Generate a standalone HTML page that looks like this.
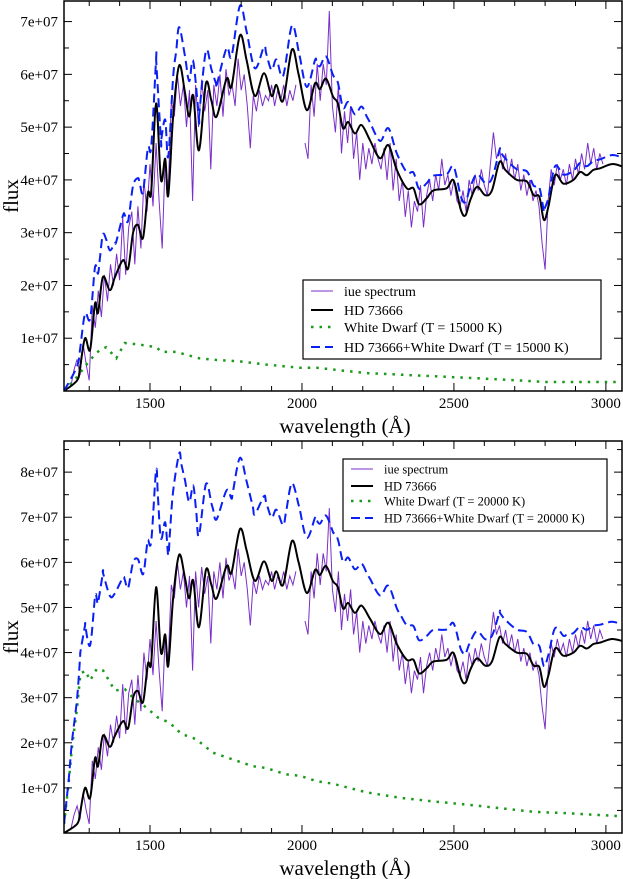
<!DOCTYPE html>
<html><head><meta charset="utf-8">
<style>
html,body{margin:0;padding:0;background:#fff;}
svg{display:block;font-family:"Liberation Serif",serif;}
</style></head>
<body>
<svg id="chart" width="623" height="879" viewBox="0 0 623 879" xmlns="http://www.w3.org/2000/svg"></svg>
<script>
// ---- data (flux in units of 1e6) ----
const hdWave = [1217,1260,1270,1286,1303,1319,1329,1345,1368,1384,1411,1428,1444,1460,1477,1493,1504,1520,1536,1550,1560,1576,1596,1615,1629,1642,1661,1684,1702,1719,1752,1768,1796,1818,1845,1875,1900,1916,1938,1967,1989,2016,2043,2059,2079,2102,2118,2135,2152,2174,2196,2224,2257,2284,2312,2345,2367,2385,2410,2432,2476,2499,2523,2538,2554,2576,2603,2625,2650,2669,2707,2740,2762,2781,2796,2811,2833,2860,2893,2915,2937,2959,2981,3019,3052];
const hdFlux = [0,2,4.5,10,7.8,16.6,14.8,21.6,19.1,21.5,24.8,23.2,29.9,31.5,29,37.5,37.8,54.5,40,44,37,52,61.7,56.5,52,56,45.6,58.3,55,52,59.2,57.7,67.4,62.6,55.9,60.2,55.9,58,55,64.7,60,53.2,58.3,57.2,59.2,55.8,54.5,49.8,51,48.8,50.4,47.5,44.1,46.6,41.9,38.4,38.4,35.4,36.5,38,38.4,39.9,34.3,33.3,36.2,38.7,37.1,38,43.4,41.9,40,39.7,37.1,36.8,32.4,35,40.9,39.3,40,41.5,40.9,41.9,42.2,43,42.6];
const wd15Wave = [1217,1260,1303,1335,1356,1389,1417,1466,1521,1537,1586,1662,1717,1796,1883,1993,2048,2213,2432,2652,2800,3052];
const wd15Flux = [0,2.7,5.9,7.8,8.3,6.2,9.1,8.8,8.3,7.4,7.4,6.2,5.9,5.6,5.0,4.4,4.4,3.4,2.8,2.2,1.7,1.7];
const wd20Wave = [1217,1232,1243,1260,1271,1287,1303,1325,1346,1384,1417,1444,1488,1526,1565,1603,1652,1707,1773,1838,1882,1948,1993,2047,2103,2213,2323,2432,2542,2652,2762,2871,3052];
const wd20Flux = [2.0,10.9,18.9,27.8,35.3,36,33.8,36.4,36,31.6,31.9,30,27.8,25.6,24.4,22,20.8,17.8,16.3,14.8,14.4,13,12.7,11.5,10.9,9,7.8,7,6.3,5.5,4.7,4.4,3.7];
const iueStart = 1240, iueStep = 10;
const iueFlux = [1,4,6,3,9,5,2,16,12,19,14,22,17,24,20,26,21,33,22,31,34,24,35,27,40,34,43,35,47,36,27,44,38,55,52,60,54,58,50,57,36,58,50,59,53,57,42,58,54,60,52,61,56,58,54,63,57,60,54,46,56,53,57,54,56,55,58,54,57,55,58,54,57,55,58,null,null,47,44,58,52,62,55,62,58,72,54,49,58,45,53,47,54,44,49,40,47,42,46,43,47,44,42,46,40,47,38,44,36,40,33,38,31,36,34,39,31,37,40,36,41,38,44,39,41,37,40,36,35,38,34,40,37,41,38,42,39,37,43,49,44,46,42,45,41,44,40,43,38,41,37,40,36,38,35,28,23,36,42,39,43,40,42,39,43,40,44,41,45,42,47,43,46,42,45,43];
const xTicks = [1500,2000,2500,3000];
const yTicksTop = [10,20,30,40,50,60,70];
const yTicksBot = [10,20,30,40,50,60,70,80];

const NS="http://www.w3.org/2000/svg";
const svg=document.getElementById('chart');
function mk(tag,attrs,parent){const e=document.createElementNS(NS,tag);for(const k in attrs)e.setAttribute(k,attrs[k]);(parent||svg).appendChild(e);return e;}
function interp(ws,fs,w){if(w<=ws[0])return fs[0];for(let i=1;i<ws.length;i++){if(w<=ws[i]){const t=(w-ws[i-1])/(ws[i]-ws[i-1]);return fs[i-1]+t*(fs[i]-fs[i-1]);}}return fs[fs.length-1];}
function smooth(pts){let d='M'+pts[0][0].toFixed(1)+','+pts[0][1].toFixed(1);
  for(let i=0;i<pts.length-1;i++){const p0=pts[Math.max(0,i-1)],p1=pts[i],p2=pts[i+1],p3=pts[Math.min(pts.length-1,i+2)];
    const c1x=p1[0]+(p2[0]-p0[0])/6,c1y=p1[1]+(p2[1]-p0[1])/6,c2x=p2[0]-(p3[0]-p1[0])/6,c2y=p2[1]-(p3[1]-p1[1])/6;
    d+='C'+c1x.toFixed(1)+','+c1y.toFixed(1)+' '+c2x.toFixed(1)+','+c2y.toFixed(1)+' '+p2[0].toFixed(1)+','+p2[1].toFixed(1);}
  return d;}

function panel(id,top,bottom,yMax,yTicks,wdWave,wdFlux,temp,leg){
  const L=64,R=622,wMin=1217,wMax=3053;
  const X=w=>L+(w-wMin)/(wMax-wMin)*(R-L);
  const Y=f=>bottom-f/yMax*(bottom-top);
  const g=mk('g',{});
  
  
  const cp=mk('clipPath',{id:id+'clip'},g);mk('rect',{x:L,y:top,width:R-L,height:bottom-top},cp);
  const plot=mk('g',{'clip-path':'url(#'+id+'clip)'},g);
  let d='',pen=false;
  iueFlux.forEach((f,i)=>{const w=iueStart+i*iueStep;if(f===null){pen=false;return;}d+=(pen?'L':'M')+X(w).toFixed(1)+','+Y(f).toFixed(1);pen=true;});
  const iue=mk('path',{d:d,fill:'none',stroke:'#7b2fc8','stroke-width':1},plot);
  
  
  const wdp=mk('polyline',{points:wdWave.map((w,i)=>X(w).toFixed(1)+','+Y(wdFlux[i]).toFixed(1)).join(' '),fill:'none',stroke:'#1a9a1a','stroke-width':2.5,'stroke-dasharray':'2.5,6'},plot);
  
  
  const hd=mk('path',{d:smooth(hdWave.map((w,i)=>[X(w),Y(hdFlux[i])])),fill:'none',stroke:'#000','stroke-width':2,'stroke-linejoin':'round'},plot);
  
  
  const grid=Array.from(new Set(hdWave.concat(wdWave))).sort((a,b)=>a-b);
  const sum=mk('path',{d:smooth(grid.map(w=>[X(w),Y(interp(hdWave,hdFlux,w)+interp(wdWave,wdFlux,w))])),fill:'none',stroke:'#0a1ff5','stroke-width':2,'stroke-dasharray':'9,5','stroke-linejoin':'round'},plot);
  
  
  const fr=mk('rect',{x:L,y:top,width:R-L,height:bottom-top,fill:'none',stroke:'#000','stroke-width':1.5},g);
  
  
  for(let w=1300;w<=3000;w+=100){const x=X(w),len=(w%500===0)?8:5;
    mk('line',{x1:x,y1:bottom,x2:x,y2:bottom-len,stroke:'#000','stroke-width':1},g);
    mk('line',{x1:x,y1:top,x2:x,y2:top+len,stroke:'#000','stroke-width':1},g);}
  xTicks.forEach(w=>{const t=mk('text',{x:X(w),y:bottom+17,'font-size':15,'text-anchor':'middle'},g);t.textContent=w;
    
    });
  for(let f=5;f<yMax;f+=5){const y=Y(f),len=(f%10===0)?8:5;
    mk('line',{x1:L,y1:y,x2:L+len,y2:y,stroke:'#000','stroke-width':1},g);
    mk('line',{x1:R,y1:y,x2:R-len,y2:y,stroke:'#000','stroke-width':1},g);}
  yTicks.forEach(f=>{const t=mk('text',{x:58,y:Y(f)+5,'font-size':15,'text-anchor':'end'},g);t.textContent=(f/10)+'e+07';
    
    });
  const xt=mk('text',{x:345,y:bottom+42,'font-size':21,'text-anchor':'middle'},g);xt.textContent='wavelength (Å)';
  
  
  const cy=(top+bottom)/2;
  const yt=mk('text',{x:0,y:0,'font-size':21,'text-anchor':'middle',transform:'translate(18,'+cy+') rotate(-90)'},g);yt.textContent='flux';
  
  
  const lg=mk('g',{},g);
  
  
  mk('rect',{x:leg.x,y:leg.y,width:leg.w,height:leg.h,fill:'#fff',stroke:'#000','stroke-width':1.2},lg);
  const items=[['iue spectrum','#7b2fc8',1,''],['HD 73666','#000',2,''],['White Dwarf (T = '+temp+' K)','#1a9a1a',2.5,'2.5,6'],['HD 73666+White Dwarf (T = '+temp+' K)','#0a1ff5',2,'9,5']];
  items.forEach((it,i)=>{const y=leg.rows[i];
    const ln=mk('line',{x1:leg.x+8,y1:y,x2:leg.x+30,y2:y,stroke:it[1],'stroke-width':it[2]},lg);
    if(it[3])ln.setAttribute('stroke-dasharray',it[3]);
    const t=mk('text',{x:leg.x+41,y:y+leg.fs*0.35,'font-size':leg.fs},lg);t.textContent=it[0];
    
    });
}
panel('top',1,391,73.9,yTicksTop,wd15Wave,wd15Flux,'15000',{x:303,y:280,w:298,h:79,rows:[291,310,327,347],fs:14});
panel('bottom',441,833,86.9,yTicksBot,wd20Wave,wd20Flux,'20000',{x:343,y:459,w:264,h:72,rows:[469,486,501,518],fs:12.5});
</script>
</body></html>
